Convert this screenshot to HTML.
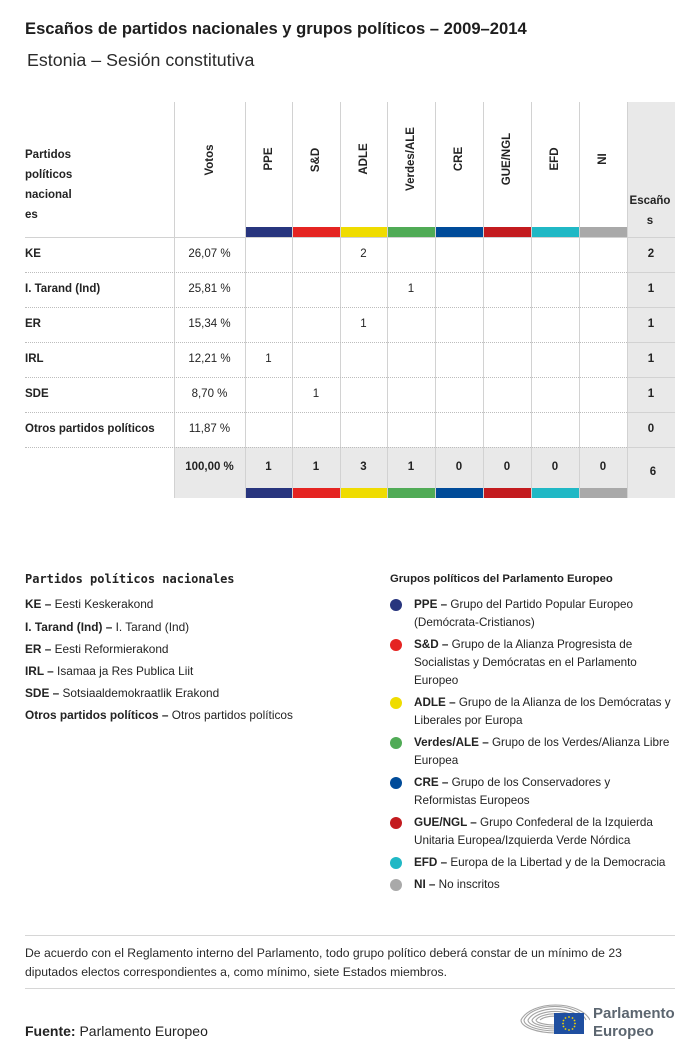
<!DOCTYPE html>
<html><head><meta charset="utf-8">
<style>
*{margin:0;padding:0;box-sizing:border-box}
body{width:700px;height:1056px;background:#fff;position:relative;overflow:hidden;font-family:"Liberation Sans",Arial,sans-serif;color:#232323}
.a{position:absolute;white-space:nowrap}
.b{font-weight:bold}
.t{font-size:11.5px;line-height:16px;height:16px}
.c{text-align:center}
.rot{position:absolute;font-weight:bold;font-size:11.5px;line-height:14px;white-space:nowrap;transform:translate(-50%,-50%) rotate(-90deg)}
.vl{position:absolute;width:1px;background:#d2d2d2}
.dot{position:absolute;height:0;border-top:1px dotted #bdbdbd}
.dot2{position:absolute;height:1px;background:#d2d2d2}
.bar{position:absolute;height:10px}
.leg{font-size:11.7px;line-height:18px}
.legl{font-size:11.85px;line-height:18px}
.dotc{position:absolute;width:12px;height:12px;border-radius:50%}
</style></head><body>

<div class="a b" style="left:25px;top:19px;font-size:16.6px;line-height:20px;color:#1e1e1e">Escaños de partidos nacionales y grupos políticos – 2009–2014</div>
<div class="a" style="left:27px;top:49px;font-size:17.8px;line-height:22px;color:#2a2a2a">Estonia – Sesión constitutiva</div>

<!-- gray backgrounds -->
<div class="a" style="left:627px;top:102px;width:48px;height:396px;background:#e9e9e9"></div>
<div class="a" style="left:174px;top:447px;width:453px;height:41px;background:#e9e9e9"></div>
<div class="a" style="left:174px;top:488px;width:71px;height:10px;background:#e9e9e9"></div>

<!-- vertical lines -->
<div class="vl" style="left:174px;top:102px;height:396px"></div>
<div class="vl" style="left:245px;top:102px;height:396px"></div>
<div class="vl" style="left:292px;top:102px;height:396px"></div>
<div class="vl" style="left:340px;top:102px;height:396px"></div>
<div class="vl" style="left:387px;top:102px;height:396px"></div>
<div class="vl" style="left:435px;top:102px;height:396px"></div>
<div class="vl" style="left:483px;top:102px;height:396px"></div>
<div class="vl" style="left:531px;top:102px;height:396px"></div>
<div class="vl" style="left:579px;top:102px;height:396px"></div>
<div class="vl" style="left:627px;top:102px;height:396px"></div>

<!-- header color bars -->
<div class="bar" style="left:246px;top:227px;width:46px;background:#28357e"></div>
<div class="bar" style="left:293px;top:227px;width:47px;background:#e52422"></div>
<div class="bar" style="left:341px;top:227px;width:46px;background:#efdc00"></div>
<div class="bar" style="left:388px;top:227px;width:47px;background:#50ab56"></div>
<div class="bar" style="left:436px;top:227px;width:47px;background:#004b99"></div>
<div class="bar" style="left:484px;top:227px;width:47px;background:#c31b1f"></div>
<div class="bar" style="left:532px;top:227px;width:47px;background:#20b8c5"></div>
<div class="bar" style="left:580px;top:227px;width:47px;background:#a9a9a9"></div>

<!-- bottom color bars -->
<div class="bar" style="left:246px;top:488px;width:46px;background:#28357e"></div>
<div class="bar" style="left:293px;top:488px;width:47px;background:#e52422"></div>
<div class="bar" style="left:341px;top:488px;width:46px;background:#efdc00"></div>
<div class="bar" style="left:388px;top:488px;width:47px;background:#50ab56"></div>
<div class="bar" style="left:436px;top:488px;width:47px;background:#004b99"></div>
<div class="bar" style="left:484px;top:488px;width:47px;background:#c31b1f"></div>
<div class="bar" style="left:532px;top:488px;width:47px;background:#20b8c5"></div>
<div class="bar" style="left:580px;top:488px;width:47px;background:#a9a9a9"></div>

<!-- header line -->
<div class="a" style="left:25px;top:237px;width:650px;height:1px;background:#d2d2d2"></div>

<!-- row separators -->
<div class="dot" style="left:25px;top:272px;width:602px"></div>
<div class="dot" style="left:25px;top:307px;width:602px"></div>
<div class="dot" style="left:25px;top:342px;width:602px"></div>
<div class="dot" style="left:25px;top:377px;width:602px"></div>
<div class="dot" style="left:25px;top:412px;width:602px"></div>
<div class="dot" style="left:25px;top:447px;width:602px"></div>
<div class="dot2" style="left:627px;top:272px;width:48px"></div>
<div class="dot2" style="left:627px;top:307px;width:48px"></div>
<div class="dot2" style="left:627px;top:342px;width:48px"></div>
<div class="dot2" style="left:627px;top:377px;width:48px"></div>
<div class="dot2" style="left:627px;top:412px;width:48px"></div>
<div class="dot2" style="left:627px;top:447px;width:48px"></div>

<!-- header labels -->
<div class="a b" style="left:25px;top:145px;font-size:11.5px;line-height:20px">Partidos<br>políticos<br>nacional<br>es</div>
<div class="rot" style="left:210px;top:160px">Votos</div>
<div class="rot" style="left:269px;top:159px">PPE</div>
<div class="rot" style="left:316px;top:160px">S&amp;D</div>
<div class="rot" style="left:364px;top:159px">ADLE</div>
<div class="rot" style="left:411px;top:159px">Verdes/ALE</div>
<div class="rot" style="left:459px;top:159px">CRE</div>
<div class="rot" style="left:507px;top:159px">GUE/NGL</div>
<div class="rot" style="left:555px;top:159px">EFD</div>
<div class="rot" style="left:603px;top:159px">NI</div>
<div class="a b c" style="left:627px;top:191px;width:46px;font-size:11.5px;line-height:20px">Escaño<br>s</div>

<!-- rows -->
<div class="a b t" style="left:25px;top:246px">KE</div>
<div class="a b t" style="left:25px;top:281px">I. Tarand (Ind)</div>
<div class="a b t" style="left:25px;top:316px">ER</div>
<div class="a b t" style="left:25px;top:351px">IRL</div>
<div class="a b t" style="left:25px;top:386px">SDE</div>
<div class="a b t" style="left:25px;top:421px">Otros partidos políticos</div>

<div class="a t c" style="left:174px;width:71px;top:246px">26,07 %</div>
<div class="a t c" style="left:174px;width:71px;top:281px">25,81 %</div>
<div class="a t c" style="left:174px;width:71px;top:316px">15,34 %</div>
<div class="a t c" style="left:174px;width:71px;top:351px">12,21 %</div>
<div class="a t c" style="left:174px;width:71px;top:386px">8,70 %</div>
<div class="a t c" style="left:174px;width:71px;top:421px">11,87 %</div>

<div class="a t c" style="left:340px;width:47px;top:246px">2</div>
<div class="a t c" style="left:387px;width:48px;top:281px">1</div>
<div class="a t c" style="left:340px;width:47px;top:316px">1</div>
<div class="a t c" style="left:245px;width:47px;top:351px">1</div>
<div class="a t c" style="left:292px;width:48px;top:386px">1</div>

<div class="a b t c" style="left:627px;width:48px;top:246px">2</div>
<div class="a b t c" style="left:627px;width:48px;top:281px">1</div>
<div class="a b t c" style="left:627px;width:48px;top:316px">1</div>
<div class="a b t c" style="left:627px;width:48px;top:351px">1</div>
<div class="a b t c" style="left:627px;width:48px;top:386px">1</div>
<div class="a b t c" style="left:627px;width:48px;top:421px">0</div>

<!-- total row -->
<div class="a b t c" style="left:174px;width:71px;top:459px">100,00 %</div>
<div class="a b t c" style="left:245px;width:47px;top:459px">1</div>
<div class="a b t c" style="left:292px;width:48px;top:459px">1</div>
<div class="a b t c" style="left:340px;width:47px;top:459px">3</div>
<div class="a b t c" style="left:387px;width:48px;top:459px">1</div>
<div class="a b t c" style="left:435px;width:48px;top:459px">0</div>
<div class="a b t c" style="left:483px;width:48px;top:459px">0</div>
<div class="a b t c" style="left:531px;width:48px;top:459px">0</div>
<div class="a b t c" style="left:579px;width:48px;top:459px">0</div>
<div class="a b t c" style="left:629px;width:48px;top:464px">6</div>

<!-- left legend -->
<div class="a b" style="left:25px;top:571px;font-family:'DejaVu Sans Mono','Liberation Mono',monospace;font-size:12px;line-height:16px">Partidos políticos nacionales</div>
<div class="a legl" style="left:25px;top:595px"><b>KE –</b> Eesti Keskerakond</div>
<div class="a legl" style="left:25px;top:618px"><b>I. Tarand (Ind) –</b> I. Tarand (Ind)</div>
<div class="a legl" style="left:25px;top:640px"><b>ER –</b> Eesti Reformierakond</div>
<div class="a legl" style="left:25px;top:662px"><b>IRL –</b> Isamaa ja Res Publica Liit</div>
<div class="a legl" style="left:25px;top:684px"><b>SDE –</b> Sotsiaaldemokraatlik Erakond</div>
<div class="a legl" style="left:25px;top:706px"><b>Otros partidos políticos –</b> Otros partidos políticos</div>

<!-- right legend -->
<div class="a b" style="left:390px;top:571px;font-size:11.3px;line-height:16px">Grupos políticos del Parlamento Europeo</div>

<div class="dotc" style="left:390px;top:599px;background:#28357e"></div>
<div class="a leg" style="left:414px;top:596px"><b>PPE –</b> Grupo del Partido Popular Europeo<br>(Demócrata-Cristianos)</div>

<div class="dotc" style="left:390px;top:639px;background:#e52422"></div>
<div class="a leg" style="left:414px;top:636px"><b>S&amp;D –</b> Grupo de la Alianza Progresista de<br>Socialistas y Demócratas en el Parlamento<br>Europeo</div>

<div class="dotc" style="left:390px;top:697px;background:#efdc00"></div>
<div class="a leg" style="left:414px;top:694px"><b>ADLE –</b> Grupo de la Alianza de los Demócratas y<br>Liberales por Europa</div>

<div class="dotc" style="left:390px;top:737px;background:#50ab56"></div>
<div class="a leg" style="left:414px;top:734px"><b>Verdes/ALE –</b> Grupo de los Verdes/Alianza Libre<br>Europea</div>

<div class="dotc" style="left:390px;top:777px;background:#004b99"></div>
<div class="a leg" style="left:414px;top:774px"><b>CRE –</b> Grupo de los Conservadores y<br>Reformistas Europeos</div>

<div class="dotc" style="left:390px;top:817px;background:#c31b1f"></div>
<div class="a leg" style="left:414px;top:814px"><b>GUE/NGL –</b> Grupo Confederal de la Izquierda<br>Unitaria Europea/Izquierda Verde Nórdica</div>

<div class="dotc" style="left:390px;top:857px;background:#20b8c5"></div>
<div class="a leg" style="left:414px;top:854px"><b>EFD –</b> Europa de la Libertad y de la Democracia</div>

<div class="dotc" style="left:390px;top:879px;background:#a9a9a9"></div>
<div class="a leg" style="left:414px;top:876px"><b>NI –</b> No inscritos</div>

<!-- footer -->
<div class="a" style="left:25px;top:935px;width:650px;height:1px;background:#d6d6d6"></div>
<div class="a" style="left:25px;top:944px;font-size:12.2px;line-height:19px;color:#2a2a2a">De acuerdo con el Reglamento interno del Parlamento, todo grupo político deberá constar de un mínimo de 23<br>diputados electos correspondientes a, como mínimo, siete Estados miembros.</div>
<div class="a" style="left:25px;top:988px;width:650px;height:1px;background:#d6d6d6"></div>

<div class="a" style="left:25px;top:1022px;font-size:14px;line-height:18px;color:#222"><b>Fuente:</b> Parlamento Europeo</div>

<!-- logo -->
<svg class="a" style="left:515px;top:992px" width="75" height="48" viewBox="515 992 75 48">
  <g fill="none" stroke="#a4a4a4" stroke-width="1.1">
    <path d="M590,1020 A36,21 0 0 0 521,1020 A36,13 0 0 0 556,1033"/>
    <path d="M586,1020 A32,18 0 0 0 524,1020 A32,11 0 0 0 556,1031"/>
    <path d="M582,1020 A28,15 0 0 0 528,1020 A28,9 0 0 0 556,1029"/>
    <path d="M578,1020 A24,12 0 0 0 532,1020 A24,7 0 0 0 556,1027"/>
    <path d="M574,1020 A20,9 0 0 0 536,1020 A20,5 0 0 0 556,1025"/>
    <path d="M570,1020 A16,6 0 0 0 540,1020"/>
  </g>
  <rect x="554" y="1013" width="30" height="21" fill="#1f4fa0"/>
  <g fill="#f3d500">
    <circle cx="569" cy="1017" r="0.9"/><circle cx="572.5" cy="1018" r="0.9"/>
    <circle cx="574.5" cy="1020.5" r="0.9"/><circle cx="575" cy="1023.5" r="0.9"/>
    <circle cx="574.5" cy="1026.5" r="0.9"/><circle cx="572.5" cy="1029" r="0.9"/>
    <circle cx="569" cy="1030" r="0.9"/><circle cx="565.5" cy="1029" r="0.9"/>
    <circle cx="563.5" cy="1026.5" r="0.9"/><circle cx="563" cy="1023.5" r="0.9"/>
    <circle cx="563.5" cy="1020.5" r="0.9"/><circle cx="565.5" cy="1018" r="0.9"/>
  </g>
</svg>
<div class="a b" style="left:593px;top:1005px;font-size:15px;line-height:18px;color:#5c6670">Parlamento<br>Europeo</div>

</body></html>
